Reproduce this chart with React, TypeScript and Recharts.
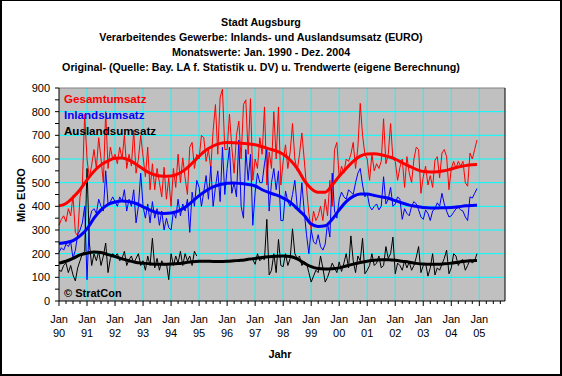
import { LineChart, Line, XAxis, YAxis, CartesianGrid, ReferenceLine, Legend } from "recharts"

const FONT = "'Liberation Sans', Arial, Helvetica, sans-serif"

const titleLines = [
  "Stadt Augsburg",
  "Verarbeitendes Gewerbe: Inlands- und Auslandsumsatz (EURO)",
  "Monatswerte: Jan. 1990 - Dez. 2004",
  "Original- (Quelle: Bay. LA f. Statistik u. DV) u. Trendwerte (eigene Berechnung)",
]
const yAxisTitle = "Mio EURO"
const xAxisTitle = "Jahr"
const copyright = "© StratCon"

const seriesNames = ["Gesamtumsatz", "Inlandsumsatz", "Auslandsumsatz"]
const seriesColors = ["#ff0000", "#0000ff", "#000000"]

const tickMonth = "Jan"
const yearLabels = ["90", "91", "92", "93", "94", "95", "96", "97", "98", "99", "00", "01", "02", "03", "04", "05"]
const yTicks = [0, 50, 100, 150, 200, 250, 300, 350, 400, 450, 500, 550, 600, 650, 700, 750, 800, 850, 900]
const gridY = [100, 200, 300, 400, 500, 600, 700, 800]
const gridX = [12, 24, 36, 48, 60, 72, 84, 96, 108, 120, 132, 144, 156, 168, 180]

// monthly values Jan 1990 - Dec 2004, Mio EURO
const gesamt = [
  320, 345, 360, 335, 390, 360, 445, 290, 275, 440, 490, 790,
  600, 520, 575, 640, 560, 690, 600, 500, 800, 560, 650, 600,
  620, 580, 650, 600, 700, 560, 620, 570, 720, 540, 600, 700,
  610, 525, 650, 470, 580, 470, 560, 500, 440, 565, 430, 520,
  400, 560, 480, 620, 500, 605, 520, 450, 650, 670, 560, 620,
  600, 700, 690, 590, 640, 560, 720, 830, 620, 860, 895, 640,
  640, 790, 650, 540, 700, 760, 600, 830, 850, 620, 855, 510,
  600, 560, 690, 620, 820, 490, 630, 560, 800, 600, 820, 490,
  590, 660, 560, 630, 750, 600, 550, 620, 710, 600, 480, 370,
  300, 380, 340, 360, 400, 340, 430, 360, 510, 400, 640, 670,
  520, 570, 540, 600, 590, 620, 670, 560, 650, 835, 700, 620,
  600, 510, 620, 550, 580, 560, 590, 770, 580, 620, 750, 600,
  590, 510, 565, 600, 480, 610, 540, 500, 600, 650, 640, 455,
  525, 570, 490, 530, 480, 595, 610, 520, 625, 640, 610, 470,
  560, 590, 560, 590, 570, 590, 500, 485, 625, 600, 640, 680,
]

const inland = [
  205, 225, 215, 240, 230, 250, 180, 215, 280, 300, 330, 400,
  90, 340, 380, 390, 370, 430, 400, 380, 550, 410, 420, 440,
  420, 400, 440, 420, 470, 380, 430, 400, 470, 330, 400, 540,
  400, 350, 410, 330, 420, 350, 390, 320, 380, 300, 350, 310,
  300, 380, 350, 430, 360, 410, 380, 430, 290, 460, 400, 510,
  480, 400, 460, 530, 430, 570, 400, 480, 550, 420, 650, 450,
  560, 650, 455, 500, 440, 680, 400, 350, 640, 510, 620, 320,
  460, 540, 500, 500, 580, 640, 380, 500, 560, 470, 550, 340,
  340, 465, 420, 400, 450, 510, 400, 375, 500, 380, 280, 200,
  300, 250, 240, 280, 230, 215, 240, 330, 270, 540, 380, 350,
  430, 460, 440, 430, 470, 460, 450, 500, 540, 560, 490, 440,
  455, 400, 385, 400, 410, 385, 400, 525, 410, 430, 480, 400,
  410, 440, 430, 345, 390, 370, 360, 400, 420, 410, 385, 355,
  345, 385, 370, 340, 380, 390, 415, 400, 455, 410, 380, 355,
  360, 375, 390, 395, 385, 380, 355, 340, 440, 435, 455, 475,
]

const ausland = [
  130, 125, 150, 160, 120, 150, 110, 85, 140, 170, 200, 210,
  560, 245, 150, 200, 170, 210, 150, 190, 245, 120, 180, 200,
  190, 200, 170, 180, 210, 150, 175, 190, 160, 180, 200, 150,
  170, 130, 190, 150, 265, 140, 180, 130, 170, 150, 160, 90,
  200, 150, 190, 160, 210, 150, 200, 170, 190, 150, 210, 190,
  null, null, null, null, null, null, null, null, null, null, null, null,
  null, null, null, null, null, null, null, null, null, null, null, 175,
  155, 200, 170, 180, 175, 345, 110, 130, 200, 120, 260, 150,
  145, 200, 150, 180, 305, 200, 180, 190, 150, 165, 160, 120,
  80, 105, 130, 120, 190, 140, 80, 100, 130, 160, 140, 120,
  165, 125, 160, 200, 140, 275, 170, 120, 190, 170, 265, 115,
  130, 150, 200, 150, 160, 190, 140, 150, 230, 180, 200, 270,
  115, 160, 150, 130, 170, 140, 165, 130, 150, 185, 230, 120,
  150, 160, 105, 140, 200, 110, 140, 130, 155, 180, 215, 115,
  140, 200, 190, 150, 170, 175, 130, 150, 175, 160, 170, 200,
]

// trend values, read quarterly
const trendMonths = [
  0, 3, 6, 9, 12, 15, 18, 21, 24, 27, 30, 33, 36, 39, 42, 45, 48, 51, 54, 57,
  60, 63, 66, 69, 72, 75, 78, 81, 84, 87, 90, 93, 96, 99, 102, 105, 108, 111, 114, 117,
  120, 123, 126, 129, 132, 135, 138, 141, 144, 147, 150, 153, 156, 159, 162, 165, 168, 171, 174, 177,
  179,
]
const gesamtTrend = [
  402, 412, 438, 470, 512, 548, 575, 592, 603, 604, 595, 578, 558, 540, 530, 527, 528, 537, 555, 582,
  612, 638, 655, 666, 670, 669, 667, 664, 660, 652, 643, 634, 620, 596, 560, 510, 475, 460, 460, 490,
  527, 560, 590, 612, 621, 622, 618, 610, 600, 584, 570, 556, 547, 545, 546, 550, 558, 566, 572, 576,
  577,
]
const inlandTrend = [
  243, 247, 255, 275, 305, 350, 385, 408, 418, 423, 420, 412, 398, 384, 373, 370, 372, 380, 396, 420,
  445, 466, 482, 492, 498, 499, 496, 492, 486, 470, 458, 448, 435, 418, 390, 362, 325, 315, 318, 345,
  385, 420, 442, 452, 452, 446, 440, 434, 424, 414, 405, 400, 395, 393, 393, 394, 395, 398, 402, 404,
  405,
]
const auslandTrend = [
  160, 168, 180, 195, 202, 207, 205, 196, 188, 178, 170, 163, 160, 157, 155, 155, 156, 158, 162, 166,
  168, 168, 167, 167, 168, 170, 172, 176, 180, 184, 187, 189, 190, 188, 178, 160, 145, 137, 135, 136,
  140, 148, 156, 163, 168, 172, 174, 174, 172, 168, 164, 159, 156, 155, 155, 157, 160, 164, 168, 170,
  171,
]

const rows = gesamt.map((g, i) => ({ m: i, gesamt: g, inland: inland[i], ausland: ausland[i] }))
const trendRows = trendMonths.map((m, i) => ({
  m,
  gesamtT: gesamtTrend[i],
  inlandT: inlandTrend[i],
  auslandT: auslandTrend[i],
}))

const xTicks = Array.from({ length: 64 }, (_, i) => i * 3)

function MonthTick(props: any) {
  const { x, y, payload } = props
  const m = payload.value
  const major = m % 12 === 0
  return (
    <g>
      <line x1={x} x2={x} y1={y} y2={y + (major ? 5 : 3)} stroke="#000" />
      {major && (
        <text textAnchor="middle" fontFamily={FONT} fontSize={11} fill="#000">
          <tspan x={x} y={y + 22}>{tickMonth}</tspan>
          <tspan x={x} y={y + 36}>{yearLabels[m / 12]}</tspan>
        </text>
      )}
    </g>
  )
}

function ValueTick(props: any) {
  const { x, y, payload, anchor } = props
  if (payload.value % 100 !== 0) return <g />
  return (
    <text x={x} y={y + 4} textAnchor={anchor} fontFamily={FONT} fontSize={11} fill="#000">
      {payload.value}
    </text>
  )
}

function SeriesLegend() {
  return (
    <div style={{ fontFamily: FONT, fontSize: 11.6, fontWeight: "bold", lineHeight: "16px" }}>
      {seriesNames.map((name, i) => (
        <div key={name} style={{ color: seriesColors[i] }}>
          {name}
        </div>
      ))}
    </div>
  )
}

export default function App() {
  return (
    <div style={{ position: "absolute", left: 0, top: 0, width: 562, height: 376, background: "#fff" }}>
      <LineChart width={562} height={376} margin={{ top: 88, right: 0, bottom: 0, left: 0 }}>
        <CartesianGrid
          fill="#c0c0c0"
          fillOpacity={1}
          stroke="#00ffff"
          strokeWidth={1}
          horizontalValues={gridY}
          verticalValues={gridX}
        />
        <XAxis
          dataKey="m"
          type="number"
          domain={[0, 191]}
          ticks={xTicks}
          interval={0}
          height={75}
          tickSize={0}
          tickMargin={0}
          tickLine={false}
          axisLine={{ stroke: "#000" }}
          tick={<MonthTick />}
        />
        <YAxis
          domain={[0, 900]}
          ticks={yTicks}
          interval={0}
          width={59}
          tickSize={4}
          tickMargin={5}
          axisLine={{ stroke: "#000" }}
          tickLine={{ stroke: "#000" }}
          tick={<ValueTick anchor="end" />}
        />
        <YAxis
          yAxisId="right"
          orientation="right"
          domain={[0, 900]}
          ticks={yTicks}
          interval={0}
          width={57}
          tickSize={4}
          tickMargin={3}
          axisLine={{ stroke: "#000" }}
          tickLine={{ stroke: "#000" }}
          tick={<ValueTick anchor="start" />}
        />
        <ReferenceLine y={900} stroke="#808080" />
        <Legend
          layout="vertical"
          align="center"
          verticalAlign="middle"
          wrapperStyle={{ left: 64, top: 91 }}
          content={<SeriesLegend />}
        />
        <Line data={rows} dataKey="gesamt" name={seriesNames[0]} type="linear" stroke={seriesColors[0]} strokeWidth={1} dot={false} isAnimationActive={false} />
        <Line data={rows} dataKey="inland" name={seriesNames[1]} type="linear" stroke={seriesColors[1]} strokeWidth={1} dot={false} isAnimationActive={false} />
        <Line data={rows} dataKey="ausland" name={seriesNames[2]} type="linear" stroke={seriesColors[2]} strokeWidth={1} dot={false} isAnimationActive={false} />
        <Line data={trendRows} dataKey="gesamtT" type="monotone" stroke={seriesColors[0]} strokeWidth={3} dot={false} isAnimationActive={false} />
        <Line data={trendRows} dataKey="inlandT" type="monotone" stroke={seriesColors[1]} strokeWidth={3} dot={false} isAnimationActive={false} />
        <Line data={trendRows} dataKey="auslandT" type="monotone" stroke={seriesColors[2]} strokeWidth={3} dot={false} isAnimationActive={false} />
      </LineChart>
      <svg
        width={562}
        height={376}
        style={{ position: "absolute", left: 0, top: 0, pointerEvents: "none" }}
        fontFamily={FONT}
        fontSize={11}
        fontWeight="bold"
      >
        {titleLines.map((t, i) => (
          <text key={i} x={261} y={26 + i * 15} textAnchor="middle" fill="#000" fontSize={10.7}>
            {t}
          </text>
        ))}
        <text transform="translate(25,195) rotate(-90)" textAnchor="middle" fill="#000">
          {yAxisTitle}
        </text>
        <text x={280} y={358} textAnchor="middle" fill="#000">
          {xAxisTitle}
        </text>
        <text x={64} y={297} fill="#000">
          {copyright}
        </text>
      </svg>
      <div
        style={{
          position: "absolute",
          left: 0,
          top: 0,
          width: 562,
          height: 376,
          boxSizing: "border-box",
          borderStyle: "solid",
          borderColor: "#000",
          borderWidth: "1px 2px 2px 2px",
          pointerEvents: "none",
        }}
      />
    </div>
  )
}
